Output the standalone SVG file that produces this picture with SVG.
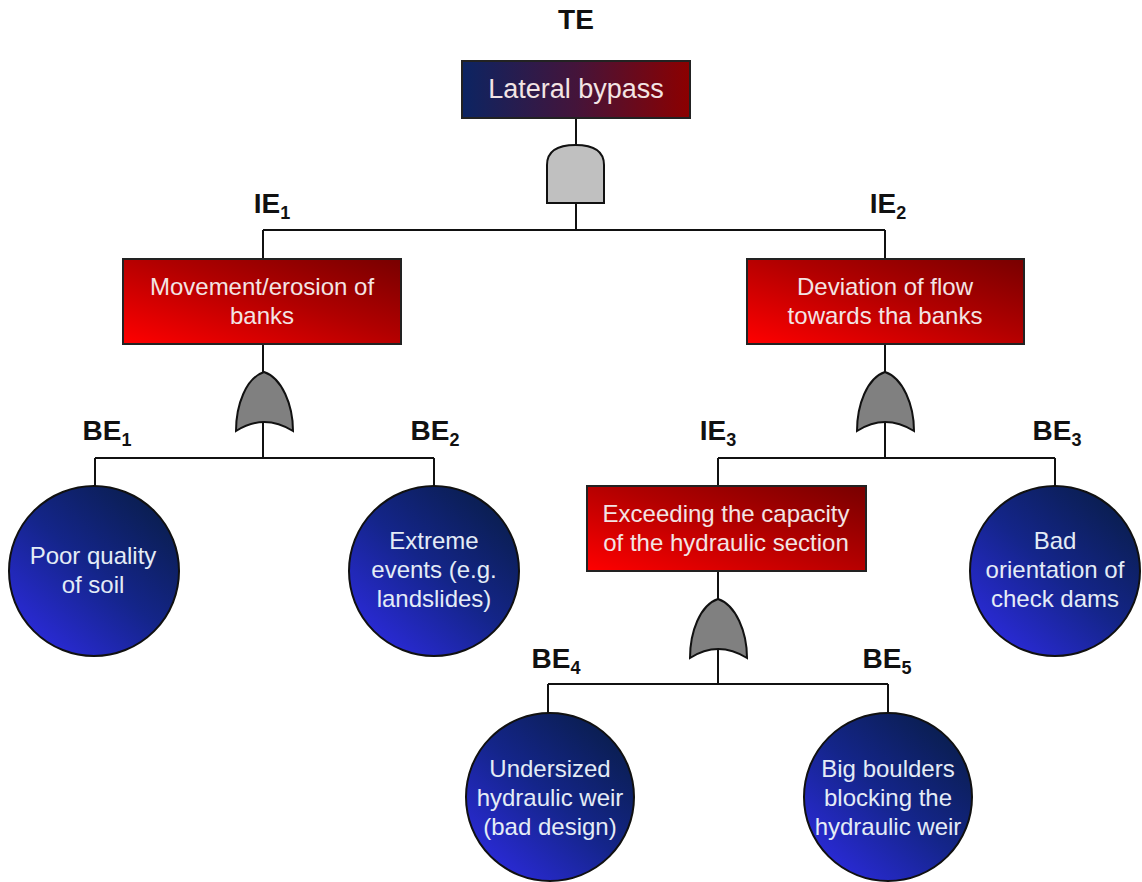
<svg xmlns="http://www.w3.org/2000/svg" width="1142" height="882" viewBox="0 0 1142 882">
<defs>
<linearGradient id="gTop" x1="0" y1="0" x2="1" y2="0"><stop offset="0" stop-color="#0c2462"/><stop offset="0.5" stop-color="#44143a"/><stop offset="1" stop-color="#8c0000"/></linearGradient>
<linearGradient id="gRed" x1="0" y1="1" x2="1" y2="0"><stop offset="0" stop-color="#ff0000"/><stop offset="0.55" stop-color="#b00000"/><stop offset="1" stop-color="#780000"/></linearGradient>
<linearGradient id="gBlue" x1="0.15" y1="0.9" x2="0.85" y2="0.1"><stop offset="0" stop-color="#2a2ad6"/><stop offset="0.5" stop-color="#14258a"/><stop offset="1" stop-color="#0a1e50"/></linearGradient>
<style>
.box{stroke:#222;stroke-width:2}
.red{fill:url(#gRed)}
.circ{fill:url(#gBlue);stroke:#111;stroke-width:2}
.t{font-family:"Liberation Sans",Arial,sans-serif;font-size:24px;text-anchor:middle}
.bt{fill:#f3e4e4}
.ct{fill:#e4ecf6}
.lbl{font-family:"Liberation Sans",Arial,sans-serif;font-size:28px;font-weight:bold;fill:#111;text-anchor:middle}
.sub{font-size:18px}
.ln{stroke:#111;stroke-width:2;fill:none}
.and{fill:#c0c0c0;stroke:#111;stroke-width:2}
.or{fill:#808080;stroke:#111;stroke-width:2}
</style>
</defs>
<g id="connectors">
<path class="ln" d="M576,118 V230 M263,230 H885 M263,230 V259 M885,230 V259"/>
<path class="ln" d="M263,344 V458 M95,458 H434 M95,458 V486 M434,458 V486"/>
<path class="ln" d="M885,344 V458 M718,458 H1055 M718,458 V486 M1055,458 V486"/>
<path class="ln" d="M718,571 V684 M548,684 H888 M548,684 V713 M888,684 V713"/>
</g>
<g id="gate-and"><path class="and" d="M547,203 V165 Q547,145 575.5,145 Q604,145 604,165 V203 Z"/></g>
<g id="gate-or1"><path class="or" d="M264,372 C282,378 293,405 293,431 Q264,413 236,431 C236,405 246,378 264,372 Z"/></g>
<g id="gate-or2"><path class="or" d="M885,372 C903,378 914,405 914,431 Q885,413 857,431 C857,405 867,378 885,372 Z"/></g>
<g id="gate-or3"><path class="or" d="M718,599 C736,605 747,632 747,658 Q718,640 690,658 C690,632 700,605 718,599 Z"/></g>
<g id="TE">
<text class="lbl" x="576" y="29">TE</text>
<rect class="box" x="462" y="61" width="228" height="57" fill="url(#gTop)"/>
<text class="t bt" x="576" y="98" style="font-size:27px">Lateral bypass</text>
</g>
<g id="IE1">
<text class="lbl" x="272" y="213">IE<tspan class="sub" dy="6">1</tspan></text>
<rect class="box red" x="123" y="259" width="278" height="85"/>
<text class="t bt" x="262" y="295">Movement/erosion of</text>
<text class="t bt" x="262" y="324">banks</text>
</g>
<g id="IE2">
<text class="lbl" x="888" y="213">IE<tspan class="sub" dy="6">2</tspan></text>
<rect class="box red" x="747" y="259" width="277" height="85"/>
<text class="t bt" x="885" y="295">Deviation of flow</text>
<text class="t bt" x="885" y="324">towards tha banks</text>
</g>
<g id="IE3">
<text class="lbl" x="718" y="440">IE<tspan class="sub" dy="6">3</tspan></text>
<rect class="box red" x="587" y="486" width="279" height="85"/>
<text class="t bt" x="726" y="522">Exceeding the capacity</text>
<text class="t bt" x="726" y="551">of the hydraulic section</text>
</g>
<g id="BE1">
<text class="lbl" x="107" y="440">BE<tspan class="sub" dy="6">1</tspan></text>
<circle class="circ" cx="94" cy="571" r="85"/>
<text class="t ct" x="93" y="564">Poor quality</text>
<text class="t ct" x="93" y="593">of soil</text>
</g>
<g id="BE2">
<text class="lbl" x="435" y="440">BE<tspan class="sub" dy="6">2</tspan></text>
<circle class="circ" cx="434" cy="571" r="85"/>
<text class="t ct" x="434" y="549">Extreme</text>
<text class="t ct" x="434" y="578">events (e.g.</text>
<text class="t ct" x="434" y="607">landslides)</text>
</g>
<g id="BE3">
<text class="lbl" x="1057" y="440">BE<tspan class="sub" dy="6">3</tspan></text>
<circle class="circ" cx="1055" cy="571" r="85"/>
<text class="t ct" x="1055" y="549">Bad</text>
<text class="t ct" x="1055" y="578">orientation of</text>
<text class="t ct" x="1055" y="607">check dams</text>
</g>
<g id="BE4">
<text class="lbl" x="556" y="668">BE<tspan class="sub" dy="6">4</tspan></text>
<circle class="circ" cx="550" cy="797" r="84"/>
<text class="t ct" x="550" y="777">Undersized</text>
<text class="t ct" x="550" y="806">hydraulic weir</text>
<text class="t ct" x="550" y="835">(bad design)</text>
</g>
<g id="BE5">
<text class="lbl" x="887" y="668">BE<tspan class="sub" dy="6">5</tspan></text>
<circle class="circ" cx="888" cy="797" r="84"/>
<text class="t ct" x="888" y="777">Big boulders</text>
<text class="t ct" x="888" y="806">blocking the</text>
<text class="t ct" x="888" y="835">hydraulic weir</text>
</g>
</svg>
